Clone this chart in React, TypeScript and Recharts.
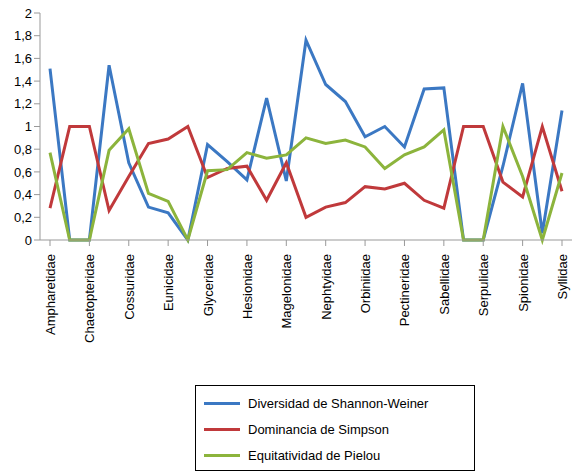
import { LineChart, Line, XAxis, YAxis } from "recharts";

const families = [
  "Ampharetidae", "Capitellidae", "Chaetopteridae", "Cirratulidae", "Cossuridae",
  "Dorvilleidae", "Eunicidae", "Flabelligeridae", "Glyceridae", "Goniadidae",
  "Hesionidae", "Lumbrineridae", "Magelonidae", "Maldanidae", "Nephtyidae",
  "Nereididae", "Orbiniidae", "Oweniidae", "Pectineridae", "Phyllodocidae",
  "Sabellidae", "Scalibregmatidae", "Serpulidae", "Sigalionidae", "Spionidae",
  "Sternaspidae", "Syllidae",
];
const shannon = [1.51, 0, 0, 1.54, 0.68, 0.29, 0.24, 0, 0.84, 0.69, 0.53, 1.25, 0.52, 1.76,
  1.37, 1.22, 0.91, 1.0, 0.82, 1.33, 1.34, 0, 0, 0.65, 1.38, 0.06, 1.14];
const simpson = [0.28, 1, 1, 0.26, 0.56, 0.85, 0.89, 1, 0.55, 0.63, 0.65, 0.35, 0.68, 0.2,
  0.29, 0.33, 0.47, 0.45, 0.5, 0.35, 0.28, 1, 1, 0.51, 0.38, 1, 0.43];
const pielou = [0.77, 0, 0, 0.79, 0.98, 0.41, 0.34, 0, 0.61, 0.62, 0.77, 0.72, 0.75, 0.9,
  0.85, 0.88, 0.82, 0.63, 0.75, 0.82, 0.97, 0, 0, 1, 0.56, 0, 0.59];
const yTicks = [0, 0.2, 0.4, 0.6, 0.8, 1, 1.2, 1.4, 1.6, 1.8, 2];

const data = families.map((f, i) => ({ f, s: shannon[i], d: simpson[i], e: pielou[i] }));
const font = "'Liberation Sans', Arial, sans-serif";

const legend = [
  { label: "Diversidad de Shannon-Weiner", color: "#3b78c3" },
  { label: "Dominancia de Simpson", color: "#c0393b" },
  { label: "Equitatividad de Pielou", color: "#8cb43c" },
];

function XTick({ x, y, payload }: any) {
  return (
    <text x={x} y={y + 6} transform={`rotate(-90 ${x} ${y + 6})`} dy={5}
      textAnchor="end" fontSize={13} fill="#000" fontFamily={font}>
      {payload.value}
    </text>
  );
}

export default function App() {
  return (
    <div style={{ position: "absolute", left: 0, top: 0, width: 573, height: 475, background: "#fff" }}>
      <LineChart width={573} height={380} data={data} margin={{ top: 13, right: 1, bottom: 10, left: 0 }}>
        <XAxis dataKey="f" interval={1} tick={<XTick />} height={130} padding={{ left: 10, right: 10 }}
          stroke="#999" tickLine={{ stroke: "#999" }} />
        <YAxis domain={[0, 2]} ticks={yTicks} width={40} stroke="#999"
          tickFormatter={(v: number) => String(v).replace(".", ",")}
          tick={{ fill: "#000", fontSize: 13, fontFamily: font }} />
        <Line dataKey="s" stroke="#3b78c3" strokeWidth={3} dot={false} isAnimationActive={false} />
        <Line dataKey="d" stroke="#c0393b" strokeWidth={3} dot={false} isAnimationActive={false} />
        <Line dataKey="e" stroke="#8cb43c" strokeWidth={3} dot={false} isAnimationActive={false} />
      </LineChart>
      <div style={{ position: "absolute", left: 195, top: 385, width: 280, height: 86, boxSizing: "border-box",
        border: "1px solid #000", padding: "4px 0 0 8px", fontFamily: font, fontSize: 13 }}>
        {legend.map((l) => (
          <div key={l.label} style={{ display: "flex", alignItems: "center", height: 26 }}>
            <span style={{ display: "inline-block", width: 36, height: 3, background: l.color, marginRight: 8 }} />
            {l.label}
          </div>
        ))}
      </div>
    </div>
  );
}
